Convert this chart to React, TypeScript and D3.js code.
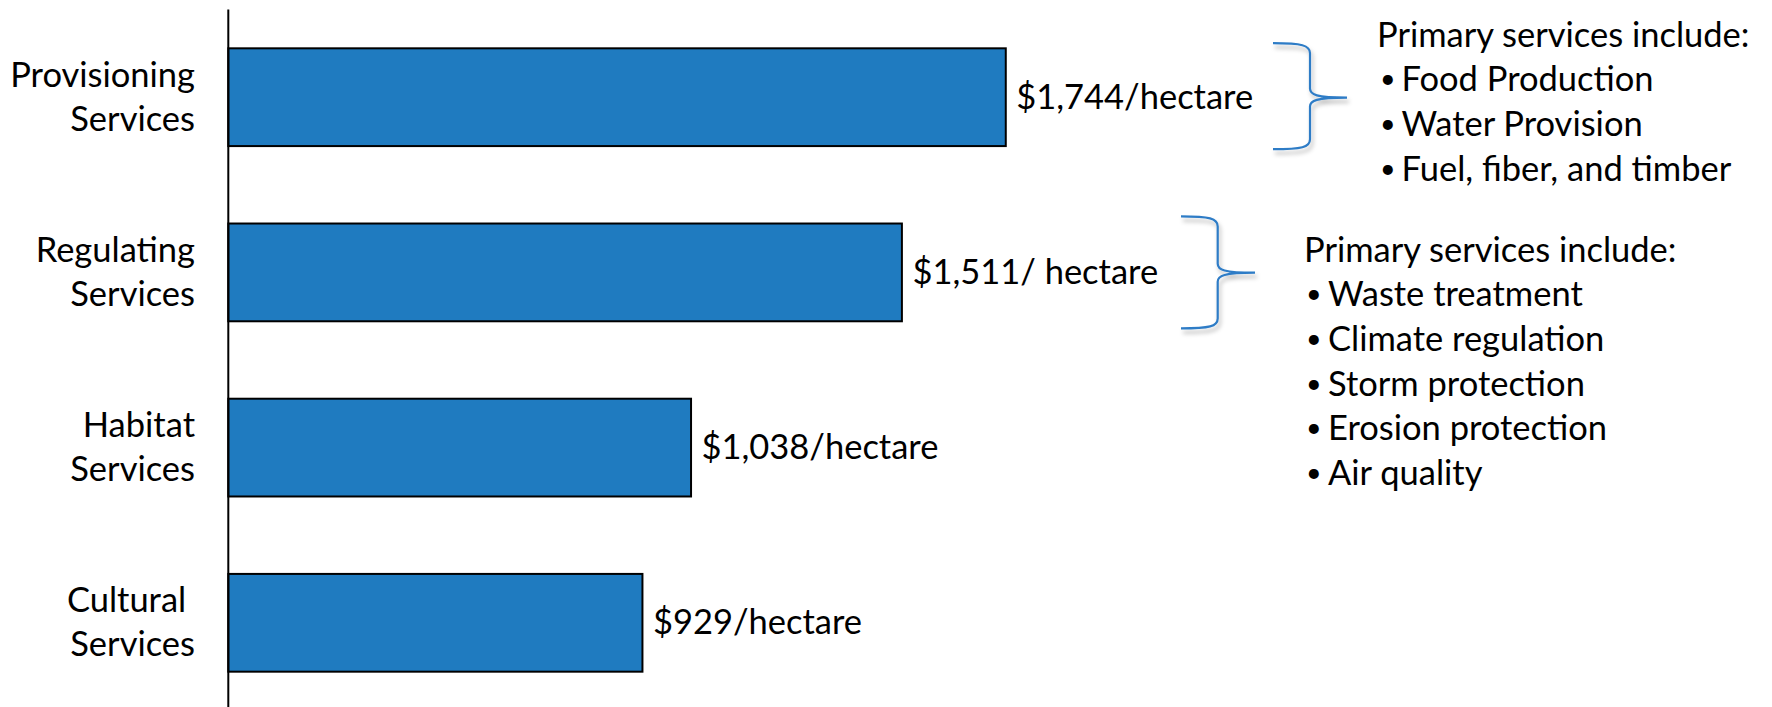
import React, { useLayoutEffect, useRef, useState } from "react";
import * as d3 from "d3";

// ---- data ----
const categories = ["Provisioning Services", "Regulating Services", "Habitat Services", "Cultural Services"];
const categoryLines = [
  ["Provisioning", "Services"],
  ["Regulating", "Services"],
  ["Habitat", "Services"],
  ["Cultural ", "Services"],
];
const values = [1744, 1511, 1038, 929];
const valueLabels = ["$1,744/hectare", "$1,511/ hectare", "$1,038/hectare", "$929/hectare"];
const annotationTitle = "Primary services include:";
const provisioningItems = ["Food Production", "Water Provision", "Fuel, fiber, and timber"];
const regulatingItems = ["Waste treatment", "Climate regulation", "Storm protection", "Erosion protection", "Air quality"];

const W = 1772;
const H = 707;
const FONT = "Lato, 'Open Sans', sans-serif";
const BAR_FILL = "#1F7BC0";
const BRACE = "#2E7CC6";

function bracePath(xl: number, xs: number, xt: number, top: number, yc: number, bottom: number) {
  return [
    `M${xl},${top}`,
    `C${xs - 8},${top} ${xs},${top + 2} ${xs},${top + 10}`,
    `L${xs},${yc - 9}`,
    `C${xs},${yc - 3} ${xs + 6},${yc} ${xt},${yc}`,
    `M${xt},${yc}`,
    `C${xs + 6},${yc} ${xs},${yc + 3} ${xs},${yc + 9}`,
    `L${xs},${bottom - 10}`,
    `C${xs},${bottom - 2} ${xs - 8},${bottom} ${xl},${bottom}`,
  ].join(" ");
}

export default function App() {
  const measureRef = useRef<SVGTextElement>(null);
  const [fs, setFs] = useState(34);

  useLayoutEffect(() => {
    const t = measureRef.current;
    if (t) {
      const w = t.getComputedTextLength();
      if (w > 0) setFs((100 * 372.5) / w);
    }
  }, []);

  const y = d3
    .scaleBand<string>()
    .domain(categories)
    .range([9.6, 710.4])
    .paddingInner(0.442)
    .paddingOuter(0.221);
  const x = d3.scaleLinear().domain([0, 2000]).range([228.3, 1119.9]);
  const bw = y.bandwidth();
  const cy = (i: number) => (y(categories[i]) as number) + bw / 2;

  const lh = 44.6;
  const ann1X = 1377;
  const ann1Y = 46.7;
  const ann2X = 1304;
  const ann2Y = 261.7;

  const c1 = cy(0);
  const c2 = cy(1);
  const bulletFs = fs * 0.78;

  return (
    <svg
      width={W}
      height={H}
      style={{ position: "absolute", left: 0, top: 0, background: "#fff" }}
      fontFamily={FONT}
    >
      <defs>
        <filter id="shadow" x="-30%" y="-20%" width="160%" height="140%">
          <feDropShadow dx="2" dy="4" stdDeviation="2.2" floodColor="#000" floodOpacity="0.28" />
        </filter>
      </defs>
      <rect width={W} height={H} fill="#fff" />
      <text ref={measureRef} x={0} y={-200} fontSize={100} visibility="hidden">
        {annotationTitle}
      </text>

      {/* bars */}
      {categories.map((c, i) => (
        <rect
          key={c}
          x={x(0)}
          y={y(c) as number}
          width={x(values[i]) - x(0)}
          height={bw}
          fill={BAR_FILL}
          stroke="#000"
          strokeWidth={2}
        />
      ))}

      {/* axis */}
      <line x1={x(0)} x2={x(0)} y1={y.range()[0]} y2={H} stroke="#000" strokeWidth={2} />

      {/* category labels */}
      {categoryLines.map((lines, i) => (
        <text key={i} textAnchor="end" fontSize={fs} fill="#000" style={{ whiteSpace: "pre" }}>
          <tspan x={195} y={cy(i) - 10.4}>{lines[0]}</tspan>
          <tspan x={195} y={cy(i) + 33.6}>{lines[1]}</tspan>
        </text>
      ))}

      {/* value labels */}
      {values.map((v, i) => (
        <text key={i} x={x(v) + 10.5} y={cy(i) + 11.3} fontSize={fs} fill="#000" style={{ whiteSpace: "pre" }}>
          {valueLabels[i]}
        </text>
      ))}

      {/* braces */}
      <path
        d={bracePath(1273, 1310, 1347, c1 - 54, c1 + 0.4, c1 + 52)}
        fill="none"
        stroke={BRACE}
        strokeWidth={2.2}
        filter="url(#shadow)"
      />
      <path
        d={bracePath(1181, 1217.7, 1255, c2 - 56, c2 + 0.3, c2 + 56)}
        fill="none"
        stroke={BRACE}
        strokeWidth={2.2}
        filter="url(#shadow)"
      />

      {/* annotation 1 */}
      <text x={ann1X} y={ann1Y} fontSize={fs} fill="#000">{annotationTitle}</text>
      {provisioningItems.map((t, i) => (
        <g key={t}>
          <text x={ann1X + 3} y={ann1Y + lh * (i + 1) - 3} fontSize={bulletFs} fill="#000">•</text>
          <text x={ann1X + 24.5} y={ann1Y + lh * (i + 1)} fontSize={fs} fill="#000">{t}</text>
        </g>
      ))}

      {/* annotation 2 */}
      <text x={ann2X} y={ann2Y} fontSize={fs} fill="#000">{annotationTitle}</text>
      {regulatingItems.map((t, i) => (
        <g key={t}>
          <text x={ann2X + 2} y={ann2Y + lh * (i + 1) - 3} fontSize={bulletFs} fill="#000">•</text>
          <text x={ann2X + 24} y={ann2Y + lh * (i + 1)} fontSize={fs} fill="#000">{t}</text>
        </g>
      ))}
    </svg>
  );
}
